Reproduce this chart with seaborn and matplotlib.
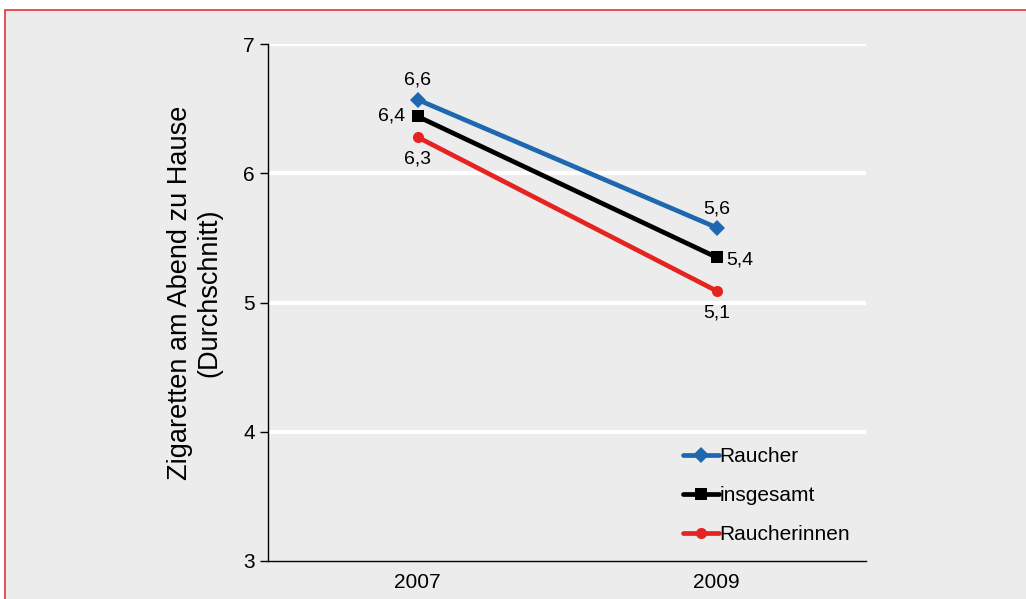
import pandas as pd
import numpy as np
import seaborn as sns
import matplotlib.pyplot as plt
from matplotlib.patches import Rectangle

years = ['2007', '2009']
raucher = [6.57, 5.58]
insgesamt = [6.44, 5.35]
raucherinnen = [6.28, 5.09]
series_names = ['Raucher', 'insgesamt', 'Raucherinnen']
label_texts = [['6,6', '5,6'], ['6,4', '5,4'], ['6,3', '5,1']]

df = pd.DataFrame({
    'Jahr': years * 3,
    'Wert': raucher + insgesamt + raucherinnen,
    'Gruppe': [n for n in series_names for _ in years],
})

bg = '#ececec'
palette = {'Raucher': '#1f68b0', 'insgesamt': '#000000', 'Raucherinnen': '#e52421'}
markers = {'Raucher': 'D', 'insgesamt': 's', 'Raucherinnen': 'o'}

sns.set_style('white')
plt.rcParams['font.family'] = ['Liberation Sans', 'DejaVu Sans']
plt.rcParams['text.color'] = 'black'
plt.rcParams['xtick.color'] = 'black'
plt.rcParams['ytick.color'] = 'black'
plt.rcParams['axes.labelcolor'] = 'black'

fig = plt.figure(figsize=(10.26, 5.99), dpi=100, facecolor='white')
fig.patches.append(Rectangle((5 / 1026, -0.05), 1.1, 1 - 10 / 599 + 0.05,
                             transform=fig.transFigure, facecolor=bg,
                             edgecolor='#e8303a', linewidth=1.2, zorder=-10))
ax = fig.add_axes([268 / 1026, 1 - 561 / 599, 598 / 1026, 517 / 599])
ax.set_facecolor(bg)

sns.lineplot(data=df, x='Jahr', y='Wert', hue='Gruppe', style='Gruppe',
             palette=palette, markers=markers, dashes=False, linewidth=3.4,
             markersize=8, markeredgewidth=0, ax=ax, zorder=3)

ax.set_xlim(-0.5, 1.5)
ax.set_ylim(3, 7)
ax.set_yticks([3, 4, 5, 6, 7])
ax.set_yticklabels(['3', '4', '5', '6', '7'])
ax.set_xticks([0, 1])
ax.set_xticklabels(years)
ax.set_xticks([-0.5, 0.5, 1.5], minor=True)
ax.tick_params(axis='x', which='major', length=0, labelsize=15, pad=9)
ax.tick_params(axis='x', which='minor', length=6, width=1, direction='out', color='black')
ax.tick_params(axis='y', length=6, width=1, direction='out', color='black', labelsize=15, left=True)
for y in [4, 5, 6, 7]:
    ax.axhline(y, color='white', linewidth=3, zorder=1)
for s in ['top', 'right']:
    ax.spines[s].set_visible(False)
for s in ['left', 'bottom']:
    ax.spines[s].set_color('black')
    ax.spines[s].set_linewidth(1)
ax.set_xlabel('')
ax.set_ylabel('Zigaretten am Abend zu Hause\n(Durchschnitt)', fontsize=19.5, linespacing=1.15)
ax.yaxis.set_label_coords(-0.077, 0.518)

vals = [raucher, insgesamt, raucherinnen]
offsets = [[(0, 8, 'center', 'bottom'), (0, 7, 'center', 'bottom')],
           [(-9, 0, 'right', 'center'), (7, -2, 'left', 'center')],
           [(0, -10, 'center', 'top'), (0, -10, 'center', 'top')]]
for i in range(3):
    for j in range(2):
        dx, dy, ha, va = offsets[i][j]
        ax.annotate(label_texts[i][j], (j, vals[i][j]), xytext=(dx, dy),
                    textcoords='offset points', ha=ha, va=va, fontsize=14)

leg = ax.legend(loc='lower left', bbox_to_anchor=(0.68, 0.017), frameon=False,
                fontsize=15, handlelength=1.75, handletextpad=0.0,
                labelspacing=0.95, borderaxespad=0)
for h in leg.get_lines():
    h.set_linewidth(3.4)

fig.savefig('out.png', dpi=100, facecolor=fig.get_facecolor())
